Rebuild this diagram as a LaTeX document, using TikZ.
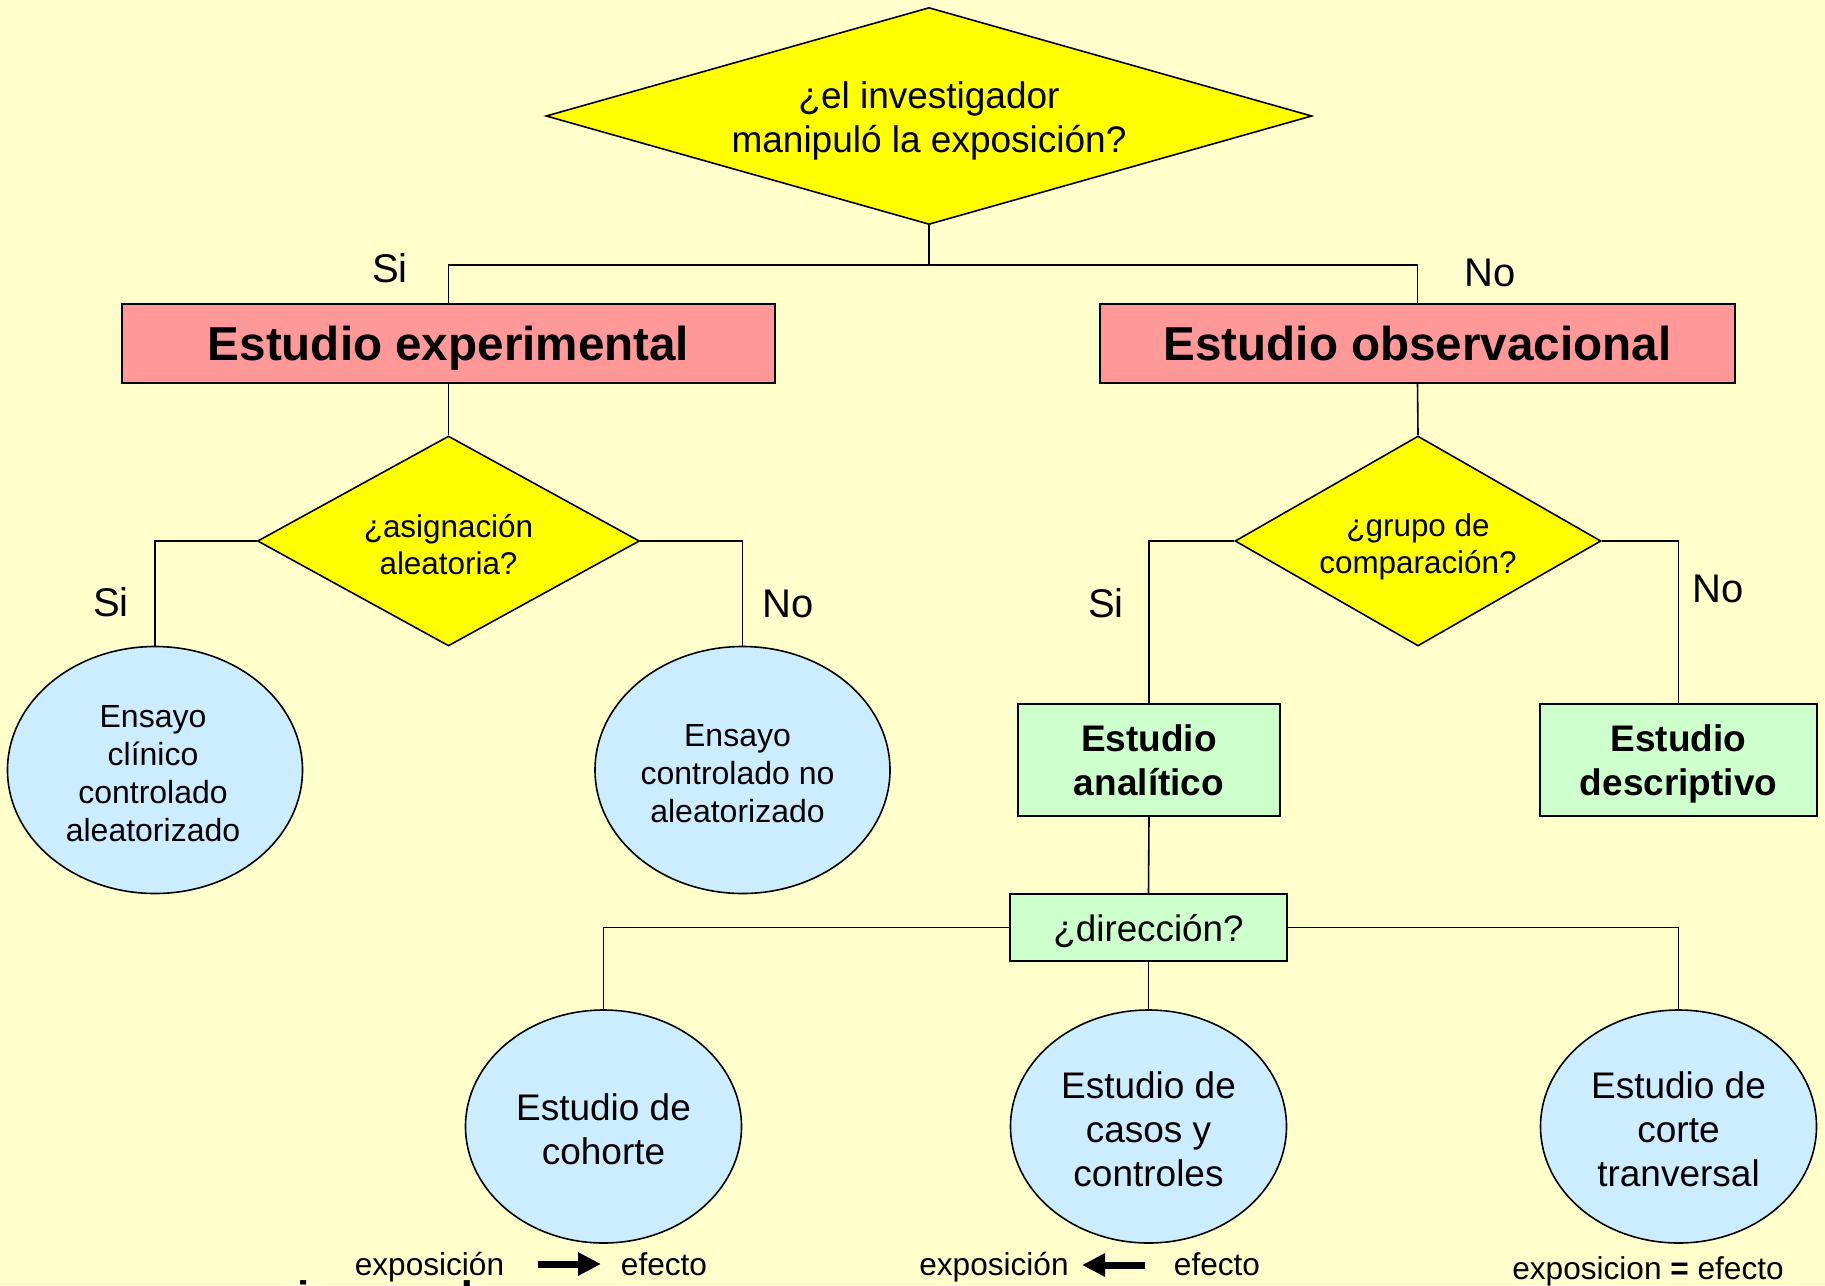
\documentclass[tikz,border=0pt]{standalone}
\usepackage{fontspec}
\setmainfont{Liberation Sans}
\usetikzlibrary{shapes.geometric,arrows.meta}
\definecolor{bgc}{HTML}{FFFFCC}
\definecolor{dyel}{HTML}{FFFF00}
\definecolor{pinkc}{HTML}{FF9999}
\definecolor{bluec}{HTML}{CCECFF}
\definecolor{greenc}{HTML}{CCFFCC}
\begin{document}
\begin{tikzpicture}[x=0.5pt,y=-0.5pt,
  conn/.style={line width=0.8pt,draw=black},
  dec/.style={diamond,draw=black,line width=0.8pt,fill=dyel,inner sep=0pt},
  dtext/.style={inner sep=0pt,align=center},
  titlebox/.style={rectangle,draw=black,line width=0.9pt,fill=pinkc,inner sep=0pt,text depth=0pt,minimum height=39.5pt,font=\fontsize{23.8}{28}\selectfont\bfseries},
  greenbox/.style={rectangle,draw=black,line width=0.8pt,fill=greenc,inner sep=0pt,text depth=0pt,align=center},
  ell/.style={ellipse,draw=black,line width=0.8pt,fill=bluec,inner sep=0pt},
  lab/.style={font=\fontsize{20}{24}\selectfont,inner sep=0pt,anchor=base},
  bt/.style={font=\fontsize{15.8}{19}\selectfont,inner sep=0pt,anchor=base},
  fatarrow/.style={line width=3.5pt,-{Triangle[length=11.5pt,width=11pt]}}]
\useasboundingbox (0,0) rectangle (1825,1285);
\fill[bgc] (0,0) rectangle (1825,1285);

% level 1
\node[dec,aspect=3.53,minimum width=383pt,minimum height=108.5pt] (q1) at (929,116) {};
\node[dtext,font=\fontsize{18.5}{22}\selectfont] (q1t) at ([yshift=-2.6pt]q1.center) {¿el investigador\\manipuló la exposición?};
\node[titlebox,minimum width=326.5pt] (exp) at (448.5,343.5) {Estudio experimental};
\node[titlebox,minimum width=317.5pt] (obs) at (1417.5,343.5) {Estudio observacional};
\coordinate (j1) at (929,265);
\draw[conn] (q1.south) -- (j1);
\draw[conn] (exp.north) |- (j1);
\draw[conn] (obs.north) |- (j1);
\node[lab] (si1) at (390,282) {Si};
\node[lab] (no1) at (1490,286) {No};

% level 2
\node[dec,aspect=1.82,minimum width=191pt,minimum height=105pt] (q2) at (448.5,541) {};
\node[dtext,font=\fontsize{15.7}{18.5}\selectfont] (q2t) at ([yshift=-1.75pt]q2.center) {¿asignación\\aleatoria?};
\node[dec,aspect=1.743,minimum width=183pt,minimum height=105pt] (q3) at (1418,541) {};
\node[dtext,font=\fontsize{15.7}{18.5}\selectfont] (q3t) at ([yshift=-2.9pt]q3.center) {¿grupo de\\comparación?};
\draw[conn] (exp.south) -- (q2.north);
\draw[conn] (obs.south) -- (q3.north);

\node[ell,minimum width=147.5pt,minimum height=123.5pt] (e1) at (155,770) {};
\node[dtext,font=\fontsize{16}{19}\selectfont] (e1t) at ([xshift=-1pt,yshift=-1.75pt]e1.center) {Ensayo\\clínico\\controlado\\aleatorizado};
\node[ell,minimum width=147.5pt,minimum height=123.5pt] (e2) at (742.5,770) {};
\node[dtext,font=\fontsize{16}{19}\selectfont] (e2t) at ([xshift=-2.5pt,yshift=-2pt]e2.center) {Ensayo\\controlado no\\aleatorizado};
\node[greenbox,minimum width=131pt,minimum height=56pt,font=\fontsize{18.5}{22}\selectfont\bfseries] (ana) at (1149,760) {Estudio\\analítico};
\node[greenbox,minimum width=138.5pt,minimum height=56pt,font=\fontsize{18.5}{22}\selectfont\bfseries] (desc) at (1678.5,760) {Estudio\\descriptivo};
\draw[conn] (q2.west) -| (e1.north);
\draw[conn] (q2.east) -| (e2.north);
\draw[conn] (q3.west) -| (ana.north);
\draw[conn] (q3.east) -| (desc.north);
\node[lab] (si2) at (111,616) {Si};
\node[lab] (no2) at (788,617) {No};
\node[lab] (si3) at (1106,617) {Si};
\node[lab] (no3) at (1718,602) {No};

% level 3
\node[greenbox,minimum width=138.5pt,minimum height=33.5pt,font=\fontsize{18.4}{22}\selectfont] (dir) at (1148.5,927.5) {¿dirección?};
\draw[conn] (ana.south) -- (dir.north);
\node[ell,minimum width=138pt,minimum height=116.5pt] (coh) at (603.5,1126.5) {};
\node[dtext,font=\fontsize{18.5}{22}\selectfont] (coht) at ([yshift=-1.2pt]coh.center) {Estudio de\\cohorte};
\node[ell,minimum width=138pt,minimum height=116.5pt] (cas) at (1148.5,1126.5) {};
\node[dtext,font=\fontsize{18.5}{22}\selectfont] (cast) at ([yshift=-1.4pt]cas.center) {Estudio de\\casos y\\controles};
\node[ell,minimum width=138pt,minimum height=116.5pt] (cor) at (1678.5,1126.5) {};
\node[dtext,font=\fontsize{18.5}{22}\selectfont] (cort) at ([yshift=-1.4pt]cor.center) {Estudio de\\corte\\tranversal};
\draw[conn] (dir.west) -| (coh.north);
\draw[conn] (dir.south) -- (cas.north);
\draw[conn] (dir.east) -| (cor.north);

% bottom notes
\node[bt] (x1) at (429.5,1275) {exposición};
\node[bt] (f1) at (664,1275) {efecto};
\coordinate (a1s) at (538,1264);
\coordinate (a1e) at (601,1264);
\draw[fatarrow] (a1s) -- (a1e);
\node[bt] (x2) at (994,1275) {exposición};
\node[bt] (f2) at (1217,1275) {efecto};
\coordinate (a2s) at (1145,1265);
\coordinate (a2e) at (1082,1265);
\draw[fatarrow] (a2s) -- (a2e);
\node[bt] (x3) at (1648,1279) {exposicion {\bfseries =} efecto};

% cut-off url
\begin{scope}
\clip (0,0) rectangle (1825,1285);
\node[anchor=base west,inner sep=0pt,font=\fontsize{22}{26}\selectfont\bfseries] (url) at (0,1312) {www.reeme.arizona.edu};
\end{scope}
\end{tikzpicture}
\end{document}
